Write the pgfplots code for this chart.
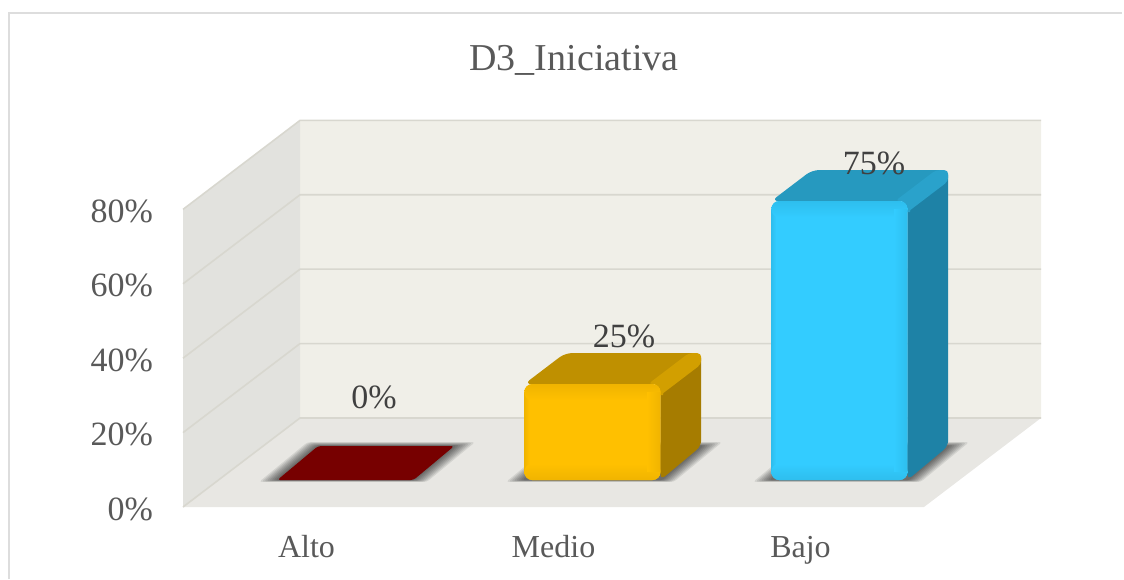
\documentclass[border=0pt]{standalone}
\usepackage{fontspec}
\setmainfont{Liberation Serif}
\usepackage{pgfplots}
\pgfplotsset{compat=1.18}
\definecolor{tick}{HTML}{595959}
\definecolor{lab}{HTML}{404040}
\definecolor{wallB}{HTML}{F0EFE8}
\definecolor{wallL}{HTML}{E2E2DE}
\definecolor{floorC}{HTML}{E8E7E3}
\definecolor{gridC}{HTML}{D8D7CF}
\definecolor{frameC}{HTML}{DDDDDD}
\definecolor{altoC}{HTML}{770000}
\definecolor{mF}{HTML}{FFC000}\definecolor{mT}{HTML}{BF9000}\definecolor{mS}{HTML}{A67C00}
\definecolor{mR}{HTML}{D29F00}\definecolor{mD}{HTML}{F0B400}\definecolor{mH}{HTML}{FFD00A}
\definecolor{bF}{HTML}{33CCFF}\definecolor{bT}{HTML}{2699BF}\definecolor{bS}{HTML}{1E82A6}
\definecolor{bR}{HTML}{2AA2CB}\definecolor{bD}{HTML}{2EBEEE}\definecolor{bH}{HTML}{3EDCFF}
\def\yf{0.303}
\def\yb{0.685}
\def\ybt{0.651}
\def\hw{0.2756}
\newcommand{\geom}[1]{%
  \pgfmathsetmacro{\xLf}{#1+0.014-\hw}\pgfmathsetmacro{\xRf}{#1+0.014+\hw}%
  \pgfmathsetmacro{\xLb}{#1-0.002-\hw}\pgfmathsetmacro{\xRb}{#1-0.002+\hw}%
  \pgfmathsetmacro{\xLt}{\xLb+0.016}\pgfmathsetmacro{\xRt}{\xRb+0.016}%
  \pgfmathsetmacro{\xM}{#1+0.014}%
}
% soft shadow layer: c, dx, dy
\newcommand{\shadowlayer}[3]{%
  \geom{#1}%
  \pgfmathsetmacro{\sxR}{\xRf+#2}\pgfmathsetmacro{\sxL}{\xLf-#2}%
  \pgfmathsetmacro{\sxRb}{\xRb+#2}\pgfmathsetmacro{\sxLb}{\xLb-#2}%
  \pgfmathsetmacro{\syf}{\yf-#3}\pgfmathsetmacro{\syb}{\yb+2*#3}%
  \addplot3[draw=none,fill=black,fill opacity=0.085,rounded corners=1.5pt] coordinates
   {(\xM,\syf,0) (\sxR,\syf,0) (\sxRb,\syb,0) (\sxLb,\syb,0) (\sxL,\syf,0) (\xM,\syf,0)};
}
\newcommand{\shadows}[1]{%
  \shadowlayer{#1}{0.064}{0.022}\shadowlayer{#1}{0.056}{0.019}%
  \shadowlayer{#1}{0.048}{0.016}\shadowlayer{#1}{0.040}{0.013}%
  \shadowlayer{#1}{0.032}{0.010}\shadowlayer{#1}{0.024}{0.008}%
  \shadowlayer{#1}{0.016}{0.006}\shadowlayer{#1}{0.008}{0.004}%
}
% box: c, V, front, top, side, ridge, dark edge, highlight
\newcommand{\drawbox}[8]{%
  \geom{#1}%
  \pgfmathsetmacro{\zm}{#2/2}%
  % side
  \addplot3[draw=none,fill=#5,rounded corners=3pt] coordinates
   {(\xRf,\yf,\zm) (\xRf,\yf,#2) (\xRt,\ybt,#2) (\xRb,\yb,0) (\xRf,\yf,0) (\xRf,\yf,\zm)};
  % top
  \addplot3[draw=none,fill=#4,rounded corners=3.5pt] coordinates
   {(\xM,\yf,#2) (\xLf,\yf,#2) (\xLt,\ybt,#2) (\xRt,\ybt,#2) (\xRf,\yf,#2) (\xM,\yf,#2)};
  % ridge top/side
  \pgfmathsetmacro{\rA}{\xRf-0.05}\pgfmathsetmacro{\rB}{\xRt-0.05}%
  \pgfmathsetmacro{\zr}{#2-3.0}%
  \addplot3[draw=none,fill=#6,rounded corners=2pt] coordinates
   {(\xRf,\yf,#2) (\rA,\yf,#2) (\rB,\ybt,#2) (\xRt,\ybt,#2) (\xRt,\ybt,\zr) (\xRf,\yf,\zr) (\xRf,\yf,#2)};
  % small patch behind the rounded front corner
  \pgfmathsetmacro{\pA}{\xRf-0.03}\pgfmathsetmacro{\pB}{\xRf+0.01}\pgfmathsetmacro{\pY}{\yf+0.02}\pgfmathsetmacro{\pZ}{#2-3}%
  \addplot3[draw=none,fill=#6] coordinates
   {(\pA,\yf,\pZ) (\pA,\pY,#2) (\pB,\pY,#2) (\pB,\yf,\pZ) (\pA,\yf,\pZ)};
  % front
  \addplot3[draw=none,fill=#3,rounded corners=4pt] coordinates
   {(\xM,\yf,0) (\xRf,\yf,0) (\xRf,\yf,#2) (\xLf,\yf,#2) (\xLf,\yf,0) (\xM,\yf,0)};
  % bevels
  \pgfmathsetmacro{\zt}{#2-4.4}\pgfmathsetmacro{\xa}{\xLf+0.02}\pgfmathsetmacro{\xb}{\xRf-0.055}%
  \pgfmathsetmacro{\zu}{#2-2.2}%
  \addplot3[draw=none,left color=#7,right color=#3] coordinates
   {(\xa,\yf,\zm) (\xa,\yf,2.2) (\xLf,\yf,2.2) (\xLf,\yf,\zu) (\xa,\yf,\zu) (\xa,\yf,\zm)};
  \addplot3[draw=none,top color=#7,middle color=#8,bottom color=#3,rounded corners=4pt] coordinates
   {(\xM,\yf,\zt) (\xRf,\yf,\zt) (\xRf,\yf,#2) (\xLf,\yf,#2) (\xLf,\yf,\zt) (\xM,\yf,\zt)};
  \addplot3[draw=none,top color=#3,bottom color=#7,rounded corners=4pt] coordinates
   {(\xM,\yf,4.4) (\xRf,\yf,4.4) (\xRf,\yf,0) (\xLf,\yf,0) (\xLf,\yf,4.4) (\xM,\yf,4.4)};
  \addplot3[draw=none,left color=#3,middle color=#8,right color=#7] coordinates
   {(\xb,\yf,\zm) (\xb,\yf,2.2) (\xRf,\yf,2.2) (\xRf,\yf,\zu) (\xb,\yf,\zu) (\xb,\yf,\zm)};
}
\begin{document}
\begin{tikzpicture}
\useasboundingbox (0,0) rectangle (562pt,289.5pt);
\draw[frameC,line width=1pt] (4.5pt,0) -- (4.5pt,283pt) -- (561pt,283pt);
\node[font=\fontsize{19}{23}\selectfont,text=tick,anchor=center] at (287pt,259.5pt) {D3\_Iniciativa};
\begin{axis}[
  at={(91.5pt,36pt)},anchor=origin,
  x={(123.5pt,0pt)},y={(58.5pt,44.5pt)},z={(0pt,1.86pt)},
  xmin=0,xmax=3,ymin=0,ymax=1,zmin=0,zmax=80,
  clip=false,
  /pgf/number format/assume math mode=true,
  axis line style={draw=none},
  tick style={draw=none},
  grid=none,
  xtick={0.5,1.5,2.5},xticklabels={Alto,Medio,Bajo},
  ytick=\empty,
  ztick={0,20,40,60,80},
  zticklabel={\pgfmathprintnumber{\tick}\%},
  ztick pos=left,xtick pos=left,
  ticklabel style={text=tick},
  x tick label style={font=\fontsize{16}{19}\selectfont,anchor=base,yshift=-25pt},
  z tick label style={font=\fontsize{17}{20}\selectfont,anchor=east,xshift=-11.5pt,yshift=-1pt},
]
% walls and floor
\addplot3[draw=none,fill=wallB] coordinates {(0,1,0) (3,1,0) (3,1,80) (0,1,80) (0,1,0)};
\addplot3[draw=none,fill=wallL] coordinates {(0,0,0) (0,1,0) (0,1,80) (0,0,80) (0,0,0)};
\addplot3[draw=none,fill=floorC] coordinates {(0,0,0) (3,0,0) (3,1,0) (0,1,0) (0,0,0)};
% gridlines
\addplot3[gridC,line width=0.8pt] coordinates {(0,0,0) (0,1,0) (3,1,0)};
\addplot3[gridC,line width=0.8pt] coordinates {(0,0,20) (0,1,20) (3,1,20)};
\addplot3[gridC,line width=0.8pt] coordinates {(0,0,40) (0,1,40) (3,1,40)};
\addplot3[gridC,line width=0.8pt] coordinates {(0,0,60) (0,1,60) (3,1,60)};
\addplot3[gridC,line width=0.8pt] coordinates {(0,0,80) (0,1,80) (3,1,80)};
% shadows
\shadows{0.5}\shadows{1.5}\shadows{2.5}
% Alto, flat
\geom{0.5}
\addplot3[draw=none,fill=altoC,rounded corners=1.5pt] coordinates
 {(\xM,\yf,0) (\xRf,\yf,0) (\xRb,\yb,0) (\xLb,\yb,0) (\xLf,\yf,0) (\xM,\yf,0)};
\drawbox{1.5}{25.8}{mF}{mT}{mS}{mR}{mD}{mH}
\drawbox{2.5}{75}{bF}{bT}{bS}{bR}{bD}{bH}
% data labels
\addplot3[draw=none,point meta=z,nodes near coords={\pgfmathprintnumber{\pgfplotspointmeta}\%},
  every node near coord/.append style={font=\fontsize{17}{20}\selectfont,text=lab,anchor=center,xshift=4.5pt,yshift=32.5pt}] coordinates {(0.5,0.5,0)};
\addplot3[draw=none,point meta=z,nodes near coords={\pgfmathprintnumber{\pgfplotspointmeta}\%},
  every node near coord/.append style={font=\fontsize{17}{20}\selectfont,text=lab,anchor=center,xshift=6pt,yshift=16.5pt}] coordinates {(1.5,0.5,25)};
\addplot3[draw=none,point meta=z,nodes near coords={\pgfmathprintnumber{\pgfplotspointmeta}\%},
  every node near coord/.append style={font=\fontsize{17}{20}\selectfont,text=lab,anchor=center,xshift=7.5pt,yshift=10pt}] coordinates {(2.5,0.5,75)};
\end{axis}
\end{tikzpicture}
\end{document}
